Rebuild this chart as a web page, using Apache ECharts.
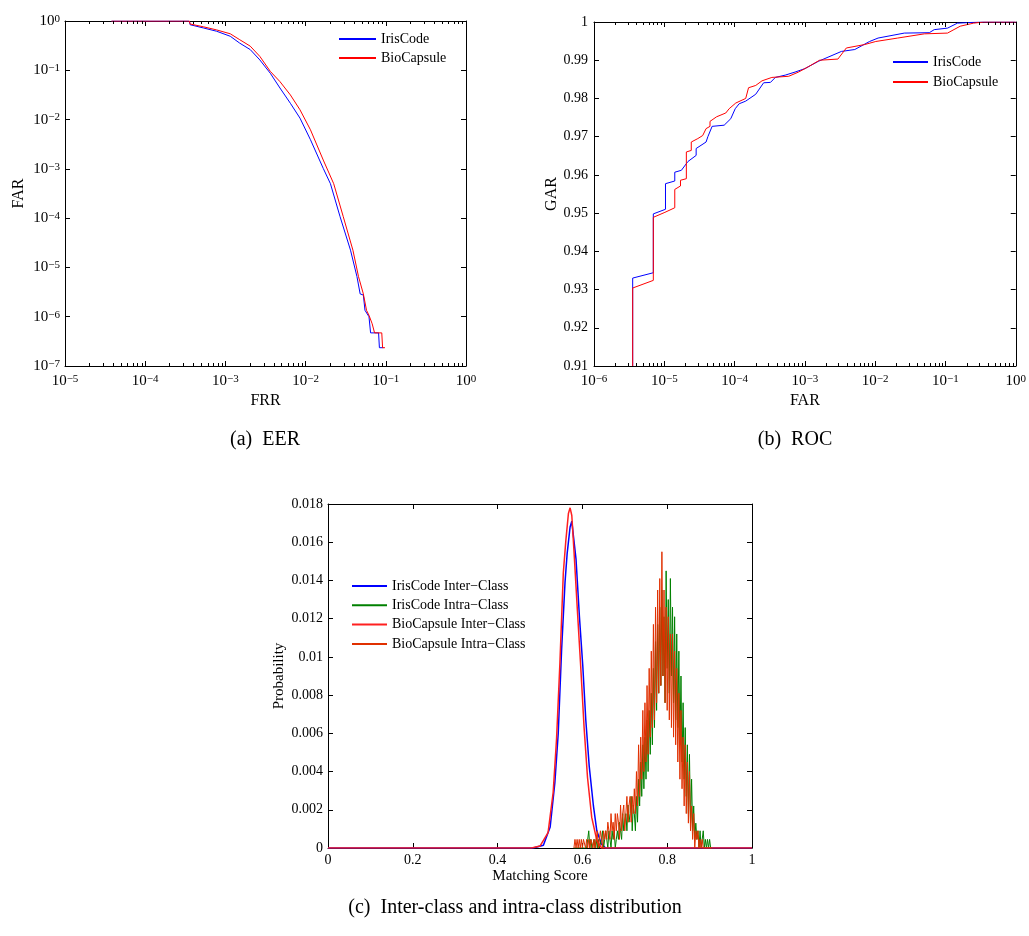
<!DOCTYPE html>
<html><head><meta charset="utf-8">
<script src="https://cdn.jsdelivr.net/npm/echarts@6/dist/echarts.min.js"></script>
<style>html,body{margin:0;padding:0;background:#fff}#c{width:1029px;height:936px}</style>
</head><body><div id="c"></div>
<script>
// ---------- (a) EER / DET curve : FRR (x) vs FAR (y) ----------
const detIrisFRR = [3.8e-5, 3.55e-4, 3.63e-4, 5.37e-4, 7.76e-4, 1.15e-3, 1.51e-3, 2.04e-3, 2.69e-3, 3.63e-3, 4.79e-3, 6.46e-3, 8.51e-3, 1.15e-2, 1.66e-2, 2.04e-2, 2.69e-2, 3.63e-2, 4.37e-2, 4.79e-2, 5.25e-2, 5.50e-2, 6.17e-2, 6.46e-2, 8.13e-2, 8.32e-2, 9.33e-2];
const detIrisFAR = [1, 1, 0.84, 0.72, 0.62, 0.49, 0.355, 0.263, 0.162, 0.087, 0.0437, 0.0214, 0.0107, 3.9e-3, 1.02e-3, 5.0e-4, 1.07e-4, 2.24e-5, 6.5e-6, 2.9e-6, 2.75e-6, 1.35e-6, 1.0e-6, 4.7e-7, 4.7e-7, 2.35e-7, 2.35e-7];
const detBioFRR = [3.8e-5, 3.55e-4, 3.63e-4, 5.37e-4, 7.76e-4, 1.15e-3, 1.51e-3, 2.04e-3, 2.69e-3, 3.63e-3, 4.79e-3, 6.46e-3, 8.51e-3, 1.15e-2, 1.66e-2, 2.24e-2, 2.95e-2, 3.89e-2, 4.57e-2, 5.25e-2, 5.75e-2, 6.17e-2, 6.76e-2, 7.24e-2, 8.91e-2, 9.12e-2, 9.77e-2];
const detBioFAR = [1, 1, 0.87, 0.76, 0.66, 0.55, 0.417, 0.309, 0.191, 0.095, 0.0589, 0.0316, 0.0158, 6.2e-3, 1.51e-3, 5.0e-4, 1.07e-4, 2.24e-5, 6.5e-6, 2.9e-6, 1.35e-6, 1.07e-6, 7.2e-7, 4.7e-7, 4.7e-7, 2.35e-7, 2.35e-7];

// ---------- (b) ROC : FAR (x) vs GAR (y) ----------
const rocIrisFAR = [3.55e-6, 3.55e-6, 6.98e-6, 6.98e-6, 1.04e-5, 1.04e-5, 1.41e-5, 1.41e-5, 1.75e-5, 2.17e-5, 2.84e-5, 2.84e-5, 3.93e-5, 4.17e-5, 4.79e-5, 7.11e-5, 8.83e-5, 1.02e-4, 1.16e-4, 1.44e-4, 2.0e-4, 2.59e-4, 3.24e-4, 3.80e-4, 5.25e-4, 7.24e-4, 1e-3, 1.55e-3, 3.31e-3, 5.13e-3, 8.32e-3, 1.10e-2, 2.60e-2, 5.89e-2, 6.92e-2, 0.107, 0.148, 0.316, 1];
const rocIrisGAR = [0.91, 0.9330, 0.9344, 0.9498, 0.9510, 0.9577, 0.9584, 0.9607, 0.9612, 0.9635, 0.9651, 0.9669, 0.9686, 0.9700, 0.9727, 0.9730, 0.9747, 0.9773, 0.9786, 0.9793, 0.9811, 0.9841, 0.9842, 0.9855, 0.9861, 0.9869, 0.9878, 0.9897, 0.9923, 0.9928, 0.9949, 0.9958, 0.9971, 0.9972, 0.9980, 0.9984, 0.9997, 1.0, 1.0];
const rocBioFAR = [3.55e-6, 3.55e-6, 6.98e-6, 6.98e-6, 1.02e-5, 1.41e-5, 1.41e-5, 1.70e-5, 1.70e-5, 2.06e-5, 2.06e-5, 2.42e-5, 2.42e-5, 3.0e-5, 3.52e-5, 3.93e-5, 4.47e-5, 4.47e-5, 5.55e-5, 7.5e-5, 8.36e-5, 1.04e-4, 1.44e-4, 1.58e-4, 2.0e-4, 2.45e-4, 3.39e-4, 5.89e-4, 8.13e-4, 1.12e-3, 1.62e-3, 2.95e-3, 3.89e-3, 7.08e-3, 1.02e-2, 2.09e-2, 5.01e-2, 0.107, 0.162, 0.251, 0.347, 1];
const rocBioGAR = [0.91, 0.9304, 0.9324, 0.9489, 0.9502, 0.9514, 0.9562, 0.9571, 0.9586, 0.9590, 0.9660, 0.9664, 0.9686, 0.9695, 0.9703, 0.9721, 0.9727, 0.9740, 0.9752, 0.9762, 0.9773, 0.9788, 0.9800, 0.9828, 0.9834, 0.9846, 0.9855, 0.9858, 0.9869, 0.9883, 0.9900, 0.9903, 0.9932, 0.9941, 0.9949, 0.9958, 0.9969, 0.9971, 0.9989, 0.9997, 1.0, 1.0];

// ---------- (c) Score distributions ----------
const interIrisScore = [0, 0.484, 0.508, 0.524, 0.535, 0.543, 0.551, 0.559, 0.564, 0.571, 0.575, 0.579, 0.585, 0.593, 0.601, 0.608, 0.616, 0.626, 0.634, 0.645, 0.655, 1];
const interIrisProb  = [0, 0, 0.00014, 0.0011, 0.0034, 0.0060, 0.0104, 0.0139, 0.0154, 0.0168, 0.0171, 0.0163, 0.0151, 0.0121, 0.0095, 0.0067, 0.0043, 0.0022, 0.0009, 0.0002, 0, 0];
const interBioScore = [0, 0.480, 0.500, 0.519, 0.531, 0.539, 0.547, 0.555, 0.561, 0.567, 0.571, 0.575, 0.580, 0.588, 0.596, 0.604, 0.612, 0.622, 0.634, 0.645, 1];
const interBioProb  = [0, 0, 0.0001, 0.0008, 0.0029, 0.0057, 0.0097, 0.0144, 0.0161, 0.0175, 0.0178, 0.0174, 0.0156, 0.0125, 0.0095, 0.0063, 0.0037, 0.0016, 0.0004, 0, 0];

// intra-class histograms: bins start at 0.58, width 0.0025
const intraBinStart = 0.58;
const intraBinWidth = 0.0025;
const intraIrisProb = [
 0,0,0,0,0,0,0,0,0,0,
 0,0,0,0.00045,0.0009,0,0.00045,0,0,0.00045,
 0,0.00045,0,0.00045,0,0,0.00045,0.0009,0,0.00045,
 0.0009,0.00045,0,0.0009,0.00045,0,0.0009,0.00045,0.0009,0,
 0.00045,0.0009,0.00045,0.00135,0.0009,0.00045,0.0018,0.0009,0.00135,0.0018,
 0.0009,0.00225,0.00135,0.0018,0.0027,0.0009,0.00225,0.0018,0.0009,0.0027,
 0.00135,0.0036,0.0022,0.0045,0.0027,0.0054,0.0031,0.0058,0.0036,0.0067,
 0.0040,0.0072,0.0049,0.0081,0.0054,0.0094,0.0063,0.0108,0.0072,0.0117,
 0.0081,0.0126,0.0085,0.0135,0.0090,0.0121,0.0076,0.0145,0.0094,0.0130,
 0.0081,0.0141,0.0090,0.0126,0.0076,0.0121,0.0067,0.0112,0.0063,0.0103,
 0.0054,0.0090,0.0045,0.0076,0.0036,0.0063,0.0027,0.0054,0.0018,0.0049,
 0.0013,0.0036,0.0009,0.0022,0.00045,0.0013,0.00045,0.0009,0,0.0009,
 0,0.00045,0.0009,0,0.00045,0,0.00045,0,0.00045,0,
 0];
const intraBioProb = [
 0,0.00045,0,0.00045,0,0.00045,0,0.00045,0,0.00045,
 0.00045,0,0.00045,0,0.00045,0,0.00045,0.00045,0,0.00045,
 0,0.00045,0.0009,0,0.00045,0.0009,0.00045,0,0.0009,0.00045,
 0.0009,0.00045,0.00135,0.0009,0.00045,0.0018,0.0009,0.00135,0.00045,0.0018,
 0.0009,0.0018,0.00135,0.00045,0.00225,0.0009,0.0018,0.00225,0.0009,0.0018,
 0.0027,0.00135,0.00225,0.0027,0.00135,0.0027,0.0018,0.0031,0.0018,0.0040,
 0.0022,0.0054,0.0027,0.0058,0.0036,0.0072,0.0040,0.0076,0.0045,0.0085,
 0.0049,0.0094,0.0058,0.0103,0.0063,0.0117,0.0067,0.0126,0.0076,0.0135,
 0.0081,0.0141,0.0085,0.0155,0.0090,0.0135,0.0076,0.0126,0.0072,0.0121,
 0.0067,0.0112,0.0063,0.0112,0.0058,0.0103,0.0054,0.0094,0.0045,0.0081,
 0.0036,0.0072,0.0031,0.0058,0.0022,0.0054,0.0018,0.0045,0.0013,0.0040,
 0.0009,0.0022,0.00045,0.0018,0,0.0009,0.00045,0.0009,0,0.00045,
 0,0.00045,0,0,0,0,0,0,0,0,
 0];

const captions = ['(a)  EER', '(b)  ROC', '(c)  Inter-class and intra-class distribution'];

// ---------- helpers ----------
const F = "'Liberation Serif', 'DejaVu Serif', serif";
const pairs = (xs, ys) => xs.map((x, i) => [x, ys[i]]);
const binPairs = (ys) => ys.map((y, i) => [+(intraBinStart + i * intraBinWidth).toFixed(4), y]);

function supLabel(v) {
  const e = Math.round(Math.log10(v));
  const s = e < 0 ? '\u2212' + (-e) : '' + e;
  return '{b|10}{s|' + s + '}';
}
const richLog = {
  b: {fontFamily: F, fontSize: 15, color: '#000', lineHeight: 15, verticalAlign: 'bottom'},
  s: {fontFamily: F, fontSize: 11, color: '#000', lineHeight: 11, verticalAlign: 'top', padding: [0, 0, 7, 0]}
};
const axLine = {show: true, onZero: false, lineStyle: {color: '#000', width: 1}};
const axTick = {show: true, inside: true, length: 5, lineStyle: {color: '#000', width: 1}};
const nameStyle = {color: '#000', fontFamily: F, fontSize: 16};

function mainAxis(o) {
  return Object.assign({
    axisLine: axLine, axisTick: axTick, splitLine: {show: false},
    nameLocation: 'middle', nameTextStyle: nameStyle
  }, o);
}
function mirrorAxis(o) {
  return Object.assign({
    axisLine: axLine, axisTick: axTick, splitLine: {show: false},
    axisLabel: {show: false}
  }, o);
}
function minorTicks(lo, hi) {
  const out = [];
  for (let e = lo; e < hi; e++) for (let k = 2; k <= 9; k++) out.push(k * Math.pow(10, e));
  return out;
}
function minorSeries(xi, yi, lo, hi, yMin, yMax) {
  return {
    type: 'custom', xAxisIndex: xi, yAxisIndex: yi, silent: true, clip: false, z: 5,
    data: minorTicks(lo, hi).map(v => [v, yMin]),
    encode: {x: 0, y: 1},
    renderItem: function (params, api) {
      const v = api.value(0);
      const p0 = api.coord([v, yMin]);
      const p1 = api.coord([v, yMax]);
      const x = Math.round(p0[0]) + 0.5;
      return {type: 'group', children: [
        {type: 'line', shape: {x1: x, y1: p0[1], x2: x, y2: p0[1] - 3}, style: {stroke: '#000', lineWidth: 1}},
        {type: 'line', shape: {x1: x, y1: p1[1], x2: x, y2: p1[1] + 3}, style: {stroke: '#000', lineWidth: 1}}
      ]};
    }
  };
}
function lineSeries(name, xi, yi, data, color, width) {
  return {type: 'line', name: name, xAxisIndex: xi, yAxisIndex: yi, data: data,
    symbol: 'none', showSymbol: false, lineStyle: {color: color, width: width}, itemStyle: {color: color}};
}

const chart = echarts.init(document.getElementById('c'), null, {renderer: 'canvas'});
const numLabel = {color: '#000', fontFamily: F, fontSize: 14};
const legendBase = {orient: 'vertical', itemHeight: 14, padding: 0, selectedMode: false,
  itemStyle: {color: 'rgba(0,0,0,0)', borderWidth: 0, opacity: 0},
  textStyle: {fontFamily: F, fontSize: 14, color: '#000'}};

const option = {
  animation: false,
  backgroundColor: '#fff',
  grid: [
    {left: 65, top: 21, width: 401, height: 345},
    {left: 594, top: 22, width: 425, height: 344},
    {left: 328, top: 504, width: 424, height: 344}
  ],
  xAxis: [
    mainAxis({gridIndex: 0, type: 'log', min: 1e-5, max: 1, position: 'bottom', name: 'FRR', nameGap: 27,
      axisLabel: {formatter: supLabel, rich: richLog, margin: 8}}),
    mirrorAxis({gridIndex: 0, type: 'log', min: 1e-5, max: 1, position: 'top'}),
    mainAxis({gridIndex: 1, type: 'log', min: 1e-6, max: 1, position: 'bottom', name: 'FAR', nameGap: 25,
      axisLabel: {formatter: supLabel, rich: richLog, margin: 8}}),
    mirrorAxis({gridIndex: 1, type: 'log', min: 1e-6, max: 1, position: 'top'}),
    mainAxis({gridIndex: 2, type: 'value', min: 0, max: 1, interval: 0.2, position: 'bottom', name: 'Matching Score', nameGap: 21,
      nameTextStyle: {color: '#000', fontFamily: F, fontSize: 15},
      axisLabel: Object.assign({margin: 5}, numLabel)}),
    mirrorAxis({gridIndex: 2, type: 'value', min: 0, max: 1, interval: 0.2, position: 'top'})
  ],
  yAxis: [
    mainAxis({gridIndex: 0, type: 'log', min: 1e-7, max: 1, position: 'left', name: 'FAR', nameGap: 38, nameRotate: 90,
      axisLabel: {formatter: supLabel, rich: richLog, margin: 5}}),
    mirrorAxis({gridIndex: 0, type: 'log', min: 1e-7, max: 1, position: 'right'}),
    mainAxis({gridIndex: 1, type: 'value', min: 0.91, max: 1, interval: 0.01, position: 'left', name: 'GAR', nameGap: 33, nameRotate: 90,
      axisLabel: Object.assign({margin: 6}, numLabel)}),
    mirrorAxis({gridIndex: 1, type: 'value', min: 0.91, max: 1, interval: 0.01, position: 'right'}),
    mainAxis({gridIndex: 2, type: 'value', min: 0, max: 0.018, interval: 0.002, position: 'left', name: 'Probability', nameGap: 41, nameRotate: 90,
      nameTextStyle: {color: '#000', fontFamily: F, fontSize: 15},
      axisLabel: Object.assign({margin: 5}, numLabel)}),
    mirrorAxis({gridIndex: 2, type: 'value', min: 0, max: 0.018, interval: 0.002, position: 'right'})
  ],
  legend: [
    Object.assign({data: ['IrisCode', 'BioCapsule'], left: 338, top: 32, itemWidth: 37, itemGap: 5}, legendBase),
    Object.assign({data: ['IrisCode', 'BioCapsule'], left: 892, top: 55, itemWidth: 35, itemGap: 6}, legendBase),
    Object.assign({data: ['IrisCode Inter\u2212Class', 'IrisCode Intra\u2212Class', 'BioCapsule Inter\u2212Class', 'BioCapsule Intra\u2212Class'],
      left: 351, top: 579, itemWidth: 35, itemGap: 5.3}, legendBase)
  ],
  graphic: [
    {type: 'text', style: {text: captions[0], x: 265, y: 440, textAlign: 'center', textVerticalAlign: 'middle', font: '20px ' + F, fill: '#000'}},
    {type: 'text', style: {text: captions[1], x: 795, y: 440, textAlign: 'center', textVerticalAlign: 'middle', font: '20px ' + F, fill: '#000'}},
    {type: 'text', style: {text: captions[2], x: 515, y: 908, textAlign: 'center', textVerticalAlign: 'middle', font: '20px ' + F, fill: '#000'}}
  ],
  series: [
    lineSeries('IrisCode', 0, 0, pairs(detIrisFRR, detIrisFAR), '#0000ff', 1),
    lineSeries('BioCapsule', 0, 0, pairs(detBioFRR, detBioFAR), '#ff0000', 1),
    lineSeries('IrisCode', 2, 2, pairs(rocIrisFAR, rocIrisGAR), '#0000ff', 1),
    lineSeries('BioCapsule', 2, 2, pairs(rocBioFAR, rocBioGAR), '#ff0000', 1),
    lineSeries('IrisCode Inter\u2212Class', 4, 4, pairs(interIrisScore, interIrisProb), '#0000ff', 1.5),
    lineSeries('IrisCode Intra\u2212Class', 4, 4, binPairs(intraIrisProb), '#008000', 1),
    lineSeries('BioCapsule Inter\u2212Class', 4, 4, pairs(interBioScore, interBioProb), '#ff2020', 1.5),
    lineSeries('BioCapsule Intra\u2212Class', 4, 4, binPairs(intraBioProb), '#e03000', 1),
    minorSeries(0, 0, -5, 0, 1e-7, 1),
    minorSeries(2, 2, -6, 0, 0.91, 1)
  ]
};
chart.setOption(option);
</script>
</body></html>
